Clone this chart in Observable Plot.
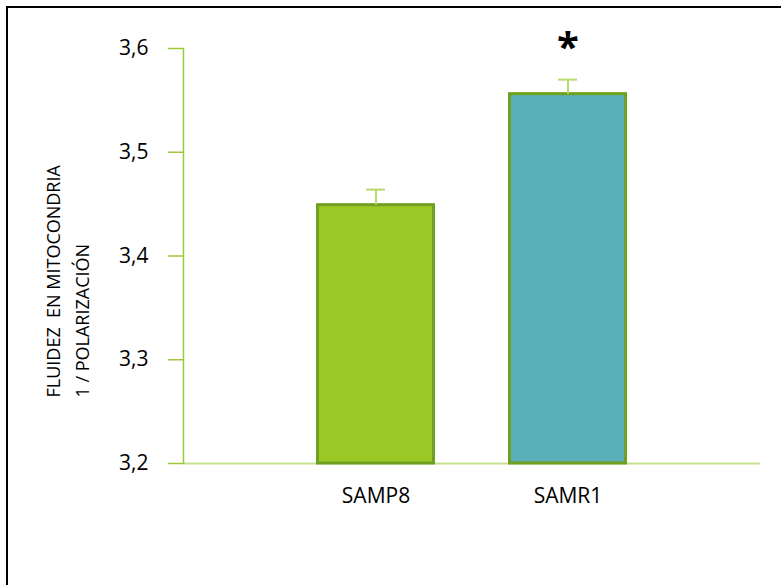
<!DOCTYPE html>
<html>
<head>
<meta charset="utf-8">
<script src="https://cdn.jsdelivr.net/npm/d3@7"></script>
<script src="https://cdn.jsdelivr.net/npm/@observablehq/plot@0.6"></script>
<style>
  html, body { margin: 0; padding: 0; background: #fff; }
  #wrap { position: relative; width: 781px; height: 585px; overflow: hidden; }
  #border { position: absolute; left: 6px; top: 6px; right: -10px; bottom: -10px;
            border-top: 2px solid #000; border-left: 2px solid #000; pointer-events: none; }
</style>
</head>
<body>
<div id="wrap"><div id="chart"></div><div id="border"></div></div>
<script>
const groups = ["SAMP8", "SAMR1"];
const means = [3.449, 3.556];
const errors = [0.015, 0.014];
const significance = ["", "*"];
const yTicks = [3.2, 3.3, 3.4, 3.5, 3.6];
const yLabel = "FLUIDEZ  EN MITOCONDRIA\n1 / POLARIZACIÓN";

const barColors = ["#9ac824", "#5aafb9"];

const rows = groups.map((g, i) => ({group: g, mean: means[i], err: errors[i], sig: significance[i]}));

const chart = Plot.plot({
  width: 781,
  height: 585,
  marginLeft: 183,
  marginRight: 21,
  marginTop: 48,
  marginBottom: 122,
  style: {fontFamily: "'Open Sans', sans-serif", background: "white", color: "#000"},
  x: {domain: groups, paddingInner: 0.378, paddingOuter: 0.684, axis: null},
  y: {domain: [yTicks[0], yTicks[yTicks.length - 1]], axis: null},
  color: {domain: groups, range: barColors},
  marks: [
    Plot.ruleY([yTicks[0]], {stroke: "#c5e192", strokeWidth: 2}),
    Plot.frame({anchor: "left", stroke: "#9cc93c", strokeWidth: 1.5}),
    Plot.axisY({ticks: yTicks, tickSize: 15, tickPadding: 20, stroke: "#9cc93c", strokeWidth: 1.5, fill: "#000",
      fontSize: 21, tickFormat: d => d.toFixed(1).replace(".", ","), label: null}),
    Plot.axisX({tickSize: 0, tickPadding: 25, fontSize: 21, fill: "#000", label: null}),
    Plot.barY(rows, {x: "group", y1: () => yTicks[0], y2: "mean", fill: "group",
      stroke: "#70a020", strokeWidth: 3, insetLeft: 1.5, insetRight: 1.5}),
    Plot.ruleX(rows, {x: "group", y1: "mean", y2: d => d.mean + d.err, stroke: "#b8db6e", strokeWidth: 2}),
    Plot.tickY(rows, {x: "group", y: d => d.mean + d.err, stroke: "#b8db6e", strokeWidth: 2, insetLeft: 50, insetRight: 50}),
    Plot.text(rows.filter(d => d.sig), {x: "group", y: d => d.mean + d.err, text: "sig",
      fontSize: 40, fontWeight: "bold", dy: -31, fill: "#000"}),
    Plot.text([yLabel], {frameAnchor: "bottom-left", rotate: -90, textAnchor: "start",
      dx: -95, dy: -66, fontSize: 18, lineHeight: 1.6, fill: "#000"})
  ]
});
document.getElementById("chart").appendChild(chart);
</script>
</body>
</html>
